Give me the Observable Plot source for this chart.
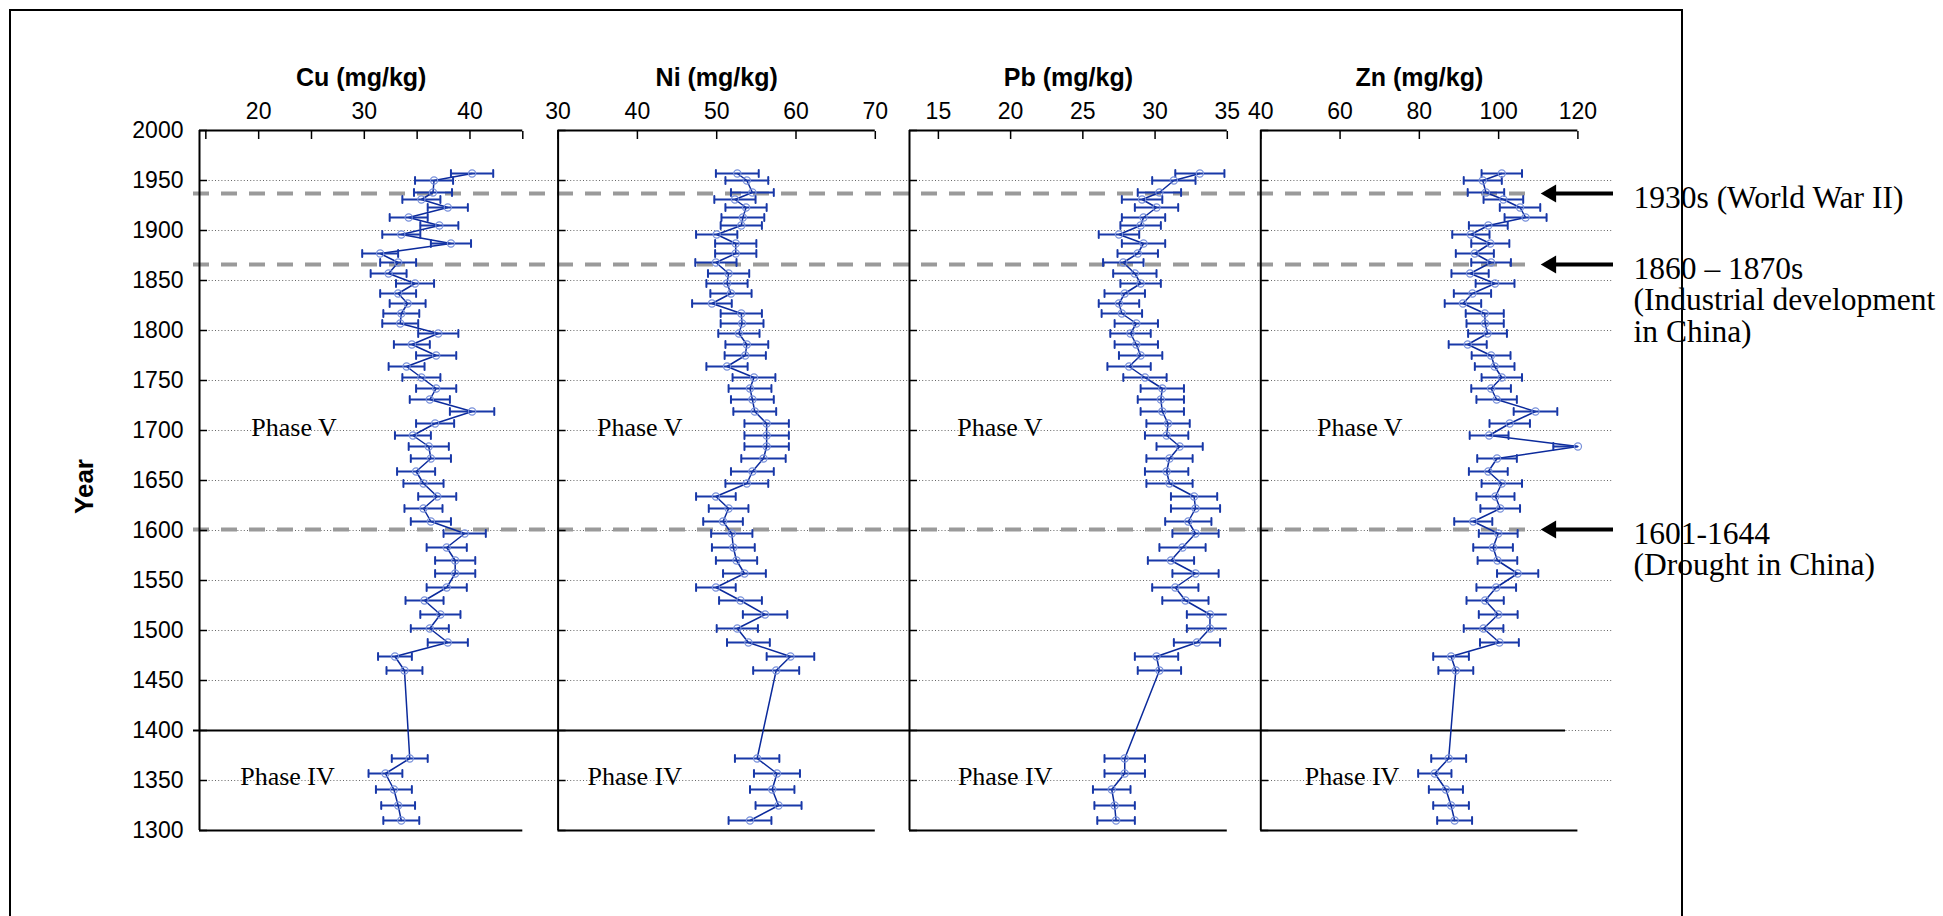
<!DOCTYPE html>
<html>
<head>
<meta charset="utf-8">
<script src="https://cdn.jsdelivr.net/npm/d3@7"></script>
<script src="https://cdn.jsdelivr.net/npm/@observablehq/plot@0.6"></script>
<style>
  body { margin: 0; background: #fff; }
  #fig { position: relative; width: 1943px; height: 916px; overflow: hidden; background: #fff; }
  #fig svg { position: absolute; left: 0; top: 0; }
  #frame { position: absolute; left: 9px; top: 9px; width: 1674px; height: 1000px; border: 2px solid #000; box-sizing: border-box; }
</style>
</head>
<body>
<div id="fig"><div id="frame"></div></div>
<script>
// ---------------- DATA ----------------
const years = [1957,1950,1938,1931,1923,1913,1905,1896,1887,1877,
               1868,1857,1847,1837,1827,1817,1807,1797,1786,1775,
               1764,1753,1742,1731,1719,1707,1695,1684,1672,1659,
               1647,1634,1622,1609,1597,1583,1570,1557,1543,1530,
               1516,1502,1488,1474,1460,1372,1357,1341,1325,1310];

const cu = [40.2,36.6,36.5,35.4,37.9,34.2,37.1,33.5,38.2,31.5,
            33.2,32.3,34.8,33.2,34.1,33.5,33.4,37.0,34.5,36.8,
            34.0,35.4,36.8,36.2,40.2,36.7,34.6,36.1,36.3,34.9,
            35.6,36.9,35.6,36.3,39.5,37.8,38.6,38.6,37.8,35.7,
            37.2,36.2,37.9,32.9,33.8,34.3,32.0,32.8,33.2,33.5];
const cuErr = [2.0,1.8,1.8,1.8,1.9,1.8,1.8,1.8,1.9,1.7,
               1.7,1.7,1.8,1.7,1.7,1.7,1.7,1.9,1.7,1.9,
               1.7,1.8,1.9,1.9,2.1,1.8,1.7,1.9,1.9,1.8,
               1.9,1.8,1.8,1.9,2.0,1.9,1.9,1.9,1.9,1.8,
               1.9,1.8,1.9,1.6,1.7,1.7,1.6,1.7,1.6,1.7];

const ni = [52.6,53.8,54.5,52.3,53.7,53.3,53.1,50.0,52.4,52.4,
            49.9,51.5,51.3,51.8,49.4,53.1,53.2,52.8,53.8,53.6,
            51.3,54.7,54.2,54.5,54.8,56.3,56.3,56.3,55.9,54.5,
            53.8,49.9,51.5,50.8,51.9,52.1,52.5,53.5,49.9,53.0,
            56.1,52.6,54.0,59.3,57.5,55.1,57.6,57.0,57.8,54.2];
const niErr = [2.7,2.7,2.7,2.6,2.6,2.7,2.6,2.6,2.6,2.6,
               2.6,2.6,2.6,2.6,2.5,2.6,2.7,2.6,2.7,2.6,
               2.6,2.7,2.7,2.7,2.7,2.8,2.8,2.8,2.8,2.7,
               2.7,2.5,2.5,2.5,2.6,2.7,2.6,2.7,2.5,2.7,
               2.8,2.6,2.7,3.0,2.9,2.8,2.9,2.8,2.9,2.7];

const pb = [33.1,31.3,30.3,29.1,30.1,29.2,29.0,27.5,29.2,28.8,
            27.8,28.6,29.0,27.9,27.5,27.7,28.7,28.3,28.7,29.0,
            28.2,29.3,30.5,30.4,30.5,30.9,30.8,31.7,31.0,30.8,
            31.0,32.7,32.8,32.3,32.8,31.9,31.1,32.8,31.4,32.1,
            33.8,33.8,32.9,30.1,30.3,27.9,27.9,27.0,27.2,27.3];
const pbErr = [1.7,1.5,1.5,1.4,1.5,1.5,1.4,1.4,1.5,1.4,
               1.4,1.5,1.4,1.4,1.4,1.4,1.5,1.4,1.5,1.5,
               1.5,1.5,1.5,1.6,1.5,1.5,1.5,1.6,1.6,1.5,
               1.6,1.6,1.7,1.6,1.6,1.6,1.6,1.6,1.6,1.6,
               1.6,1.6,1.6,1.5,1.5,1.4,1.4,1.3,1.4,1.3];

const zn = [100.8,96.0,96.8,101.2,105.4,106.8,97.4,93.0,97.9,94.0,
            98.1,92.8,99.1,93.4,91.0,96.5,96.6,97.2,92.2,98.1,
            99.0,100.8,98.1,99.5,109.3,102.8,97.6,120.0,99.6,97.4,
            100.8,99.2,100.4,93.6,99.9,98.6,99.7,104.8,99.4,96.6,
            99.9,96.2,100.2,88.0,89.2,87.4,83.9,86.7,88.0,88.9];
const znErr = [5.1,4.8,4.6,5.0,5.1,5.3,4.9,4.7,4.8,4.8,
               5.0,4.7,4.9,4.7,4.6,4.8,4.7,4.9,4.8,4.9,
               5.0,5.1,5.0,5.1,5.5,5.1,4.9,6.2,5.0,4.9,
               5.1,4.8,5.0,4.8,4.9,5.0,5.0,5.2,5.0,4.7,
               4.9,5.0,4.9,4.5,4.4,4.4,4.2,4.3,4.5,4.4];

// tick values and labels
const yearTicks = [1300,1350,1400,1450,1500,1550,1600,1650,1700,1750,1800,1850,1900,1950,2000];
const gridYears = [1350,1400,1450,1500,1550,1600,1650,1700,1750,1800,1850,1900,1950];
const cuTicks = [15,20,25,30,35,40,45];
const cuTickLabels = [20,30,40];
const niTicks = [30,40,50,60,70];
const pbTicks = [15,20,25,30,35];
const znTicks = [40,60,80,100,120];

const titles = ["Cu (mg/kg)","Ni (mg/kg)","Pb (mg/kg)","Zn (mg/kg)"];
const yearDomain = [1300, 2000];
const phaseBoundary = 1400;
const eventYears = [1937, 1866, 1601];
const eventLabels = ["1930s (World War II)",
                     "1860 – 1870s\n(Industrial development\nin China)",
                     "1601-1644\n(Drought in China)"];
const phaseNames = ["Phase V", "Phase IV"];
const phaseLabelYears = [1703, 1354];

// ---------------- LAYOUT / STYLE ----------------
const W = 1943, H = 916;
const Y_TOP = 130, Y_BOT = 830;
const SANS = "Liberation Sans, Arial, Helvetica, sans-serif";
const SERIF = "Liberation Serif, Times New Roman, serif";
const LINE_C = "#0b2a9c", ERR_C = "#1838a8", DOT_C = "#7890da";

const panels = [
  {title: titles[0], values: cu, err: cuErr, domain: [14.4, 45], left: 199, right: 522.3,
   ticks: cuTicks, labels: cuTickLabels, phaseX: [19.3, 18.25], yLabels: true},
  {title: titles[1], values: ni, err: niErr, domain: [30, 70], left: 557.6, right: 874.8,
   ticks: niTicks, labels: niTicks, phaseX: [34.9, 33.7], yLabels: false},
  {title: titles[2], values: pb, err: pbErr, domain: [13, 35], left: 909, right: 1226.8,
   ticks: pbTicks, labels: pbTicks, phaseX: [16.3, 16.35], yLabels: false},
  {title: titles[3], values: zn, err: znErr, domain: [40, 120], left: 1260.3, right: 1577.4,
   ticks: znTicks, labels: znTicks, phaseX: [54.2, 51.1], yLabels: false}
];

const fig = document.getElementById("fig");

// ---------- overlay: gridlines, event lines, arrows, annotations ----------
const ov = {gridX1: 199, gridX2: 1613, dashX1: 193, dashX2: 1528, solidX1: 193, solidX2: 1565,
            arrowTip: 1541, arrowTail: 1613, textX: 1633};
const events = eventYears.map((y, i) => ({year: y, label: eventLabels[i]}));

const overlay = Plot.plot({
  width: W, height: H, margin: 0,
  x: {domain: [0, W], range: [0, W], axis: null},
  y: {domain: yearDomain, range: [Y_BOT, Y_TOP], axis: null},
  style: {background: "transparent", overflow: "visible"},
  marks: [
    Plot.ruleY(gridYears, {x1: ov.gridX1, x2: ov.gridX2, stroke: "#666", strokeWidth: 1, strokeDasharray: "1,2.2"}),
    Plot.ruleY(eventYears, {x1: ov.dashX1, x2: ov.dashX2, stroke: "#9a9a9a", strokeWidth: 4, strokeDasharray: "16,12"}),
    Plot.ruleY([phaseBoundary], {x1: ov.solidX1, x2: ov.solidX2, stroke: "#000", strokeWidth: 2}),
    Plot.ruleY(eventYears, {x1: ov.arrowTip + 12, x2: ov.arrowTail, stroke: "#000", strokeWidth: 4}),
    Plot.dot(eventYears, {x: ov.arrowTip + 9.5, y: d => d, symbol: "triangle", r: 6.6, fill: "#000", stroke: "none", rotate: -90}),
    Plot.text(events, {x: ov.textX, y: "year", text: "label", textAnchor: "start", lineAnchor: "top",
      dy: -8, lineHeight: 1.0, fontFamily: SERIF, fontSize: 31.5, fill: "#000"})
  ]
});
fig.appendChild(overlay);

// ---------- panels ----------
panels.forEach((p) => {
  const rows = years.map((y, i) => ({year: y, v: p.values[i], e: p.err[i]}));
  const phaseRows = phaseNames.map((n, i) => ({name: n, x: p.phaseX[i], y: phaseLabelYears[i]}));
  const capShape = {draw(ctx, l) { ctx.moveTo(0, 0); ctx.lineTo(0, -l); }};
  const chart = Plot.plot({
    width: W, height: H,
    marginLeft: p.left, marginRight: W - p.right, marginTop: Y_TOP, marginBottom: H - Y_BOT,
    x: {domain: p.domain, axis: null},
    y: {domain: yearDomain, axis: null},
    style: {background: "transparent", overflow: "visible"},
    marks: [
      // frame lines
      Plot.ruleY([yearDomain[1]], {stroke: "#000", strokeWidth: 2}),
      Plot.ruleY([yearDomain[0]], {stroke: "#000", strokeWidth: 2}),
      Plot.ruleX([p.domain[0]], {stroke: "#000", strokeWidth: 2}),
      // top axis (ticks pointing inward)
      Plot.axisX({anchor: "top", ticks: p.ticks, tickSize: 8, dy: 8, tickPadding: 12,
        tickFormat: d => p.labels.includes(d) ? String(d) : "",
        fontFamily: SANS, fontSize: 23, stroke: "#000", fill: "#000", strokeWidth: 1.5, label: null}),
      // left axis (ticks pointing inward)
      Plot.axisY({anchor: "left", ticks: yearTicks, tickSize: 8, dx: 8, tickPadding: 16,
        tickFormat: d => String(d), fontFamily: SANS, fontSize: 23, stroke: "#000",
        fill: p.yLabels ? "#000" : "none", strokeWidth: 1.5, label: null}),
      // title
      Plot.text([p.title], {frameAnchor: "top", lineAnchor: "middle", textAnchor: "middle", dy: -53,
        fontFamily: SANS, fontWeight: "bold", fontSize: 25, fill: "#000"}),
      p.yLabels ? Plot.text(["Year"], {frameAnchor: "left", textAnchor: "middle", lineAnchor: "middle",
        dx: -115, dy: 6, rotate: -90, fontFamily: SANS, fontWeight: "bold", fontSize: 26, fill: "#000"}) : null,
      // phase labels
      Plot.text(phaseRows, {x: "x", y: "y", text: "name", textAnchor: "start", fontFamily: SERIF, fontSize: 26, fill: "#000"}),
      // data
      Plot.line(rows, {x: "v", y: "year", stroke: LINE_C, strokeWidth: 1.5}),
      Plot.ruleY(rows, {y: "year", x1: d => d.v - d.e, x2: d => d.v + d.e, stroke: ERR_C, strokeWidth: 2, clip: true}),
      Plot.vector(rows, {x: d => d.v - d.e, y: "year", length: 7, rotate: 0, anchor: "middle", shape: capShape, stroke: ERR_C, strokeWidth: 2, clip: true}),
      Plot.vector(rows, {x: d => d.v + d.e, y: "year", length: 7, rotate: 0, anchor: "middle", shape: capShape, stroke: ERR_C, strokeWidth: 2, clip: true}),
      Plot.dot(rows, {x: "v", y: "year", r: 3.6, stroke: DOT_C, strokeWidth: 1.2, fill: "none"})
    ]
  });
  fig.appendChild(chart);
});
</script>
</body>
</html>
